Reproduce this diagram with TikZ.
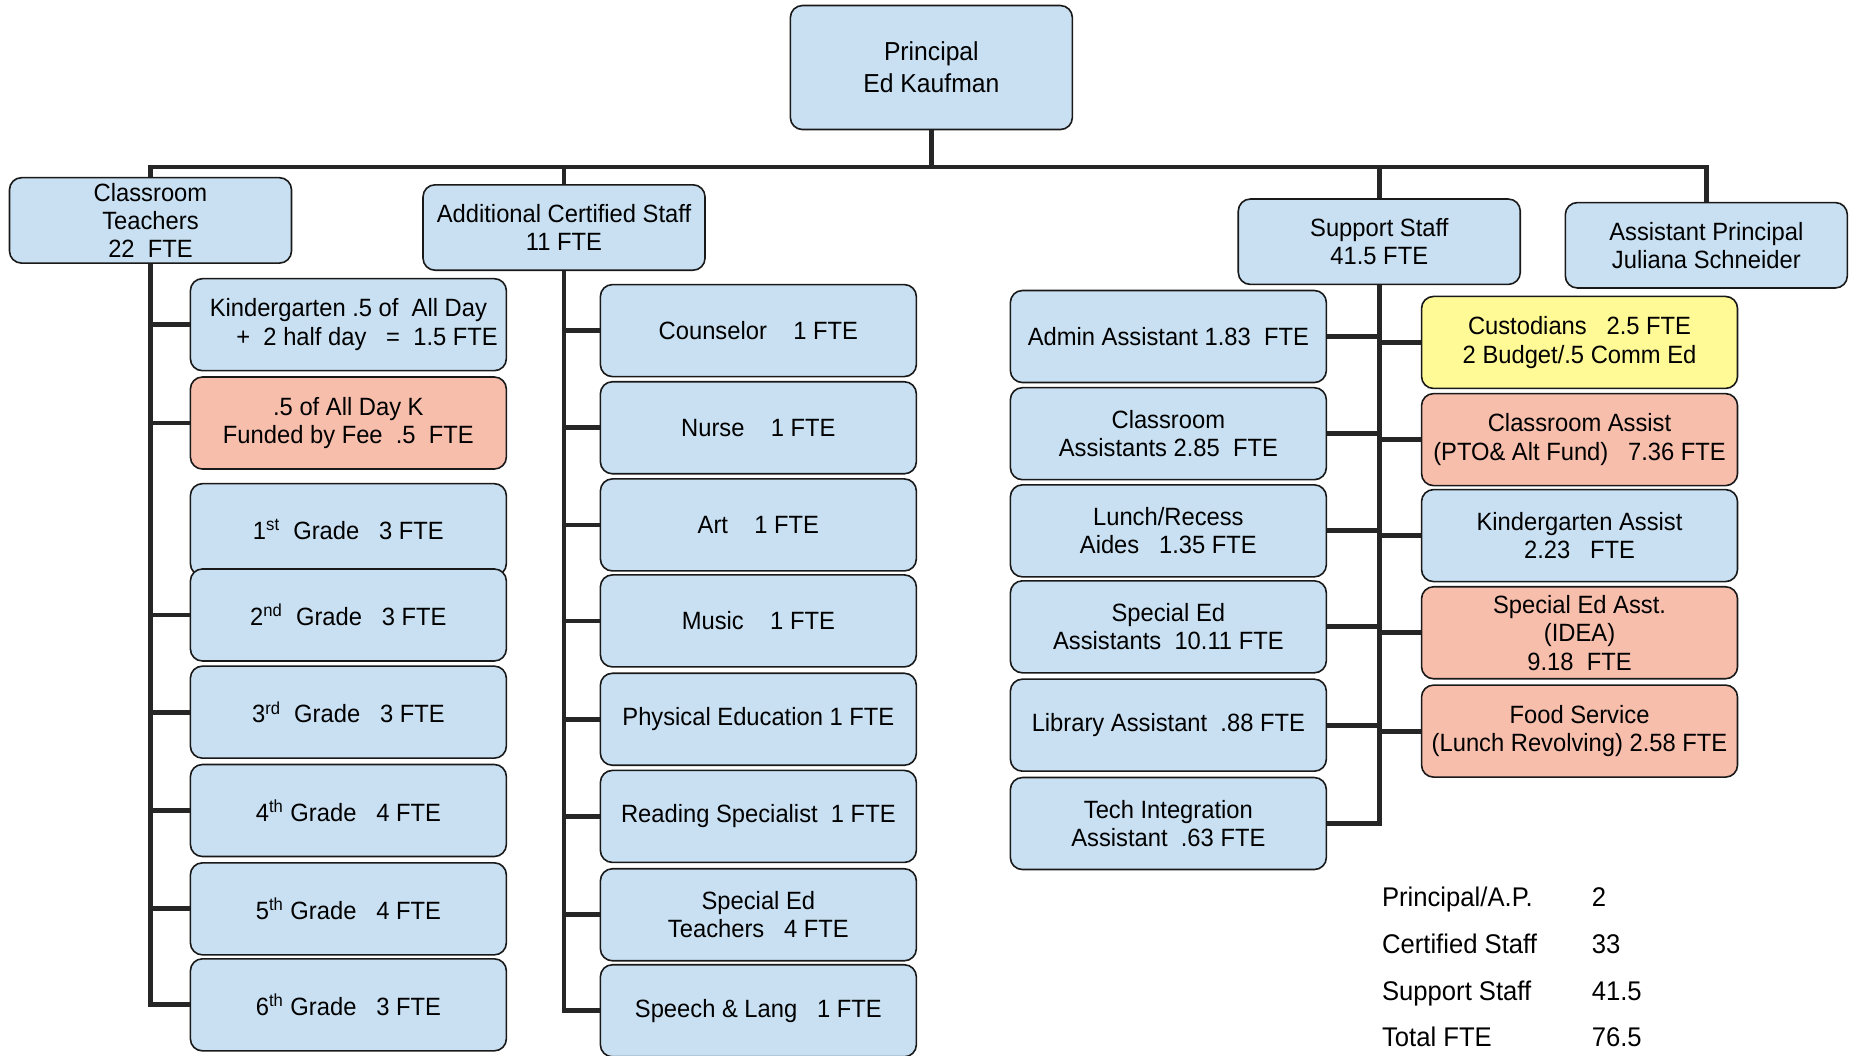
\documentclass[tikz,border=0pt]{standalone}
\usepackage{fontspec}
\setmainfont{Liberation Sans}[FakeStretch=0.95]

\definecolor{boxblue}{RGB}{200,224,242}
\definecolor{boxred}{RGB}{247,190,172}
\definecolor{boxyellow}{RGB}{255,249,150}
\definecolor{linkgray}{RGB}{38,38,38}

\tikzset{
  orgbox/.style={draw=black!90, line width=0.8pt, rounded corners=6pt, fill=boxblue,
    align=center, minimum width=158pt, minimum height=46pt, inner sep=1pt,
    font=\fontsize{12.5}{14.2}\selectfont},
  headbox/.style={orgbox, minimum width=141pt, minimum height=42.7pt},
  redbox/.style={fill=boxred},
  yellowbox/.style={fill=boxyellow},
  link/.style={draw=linkgray, line width=2.4pt, line join=miter},
  sumtext/.style={anchor=base west, inner sep=0pt, font=\fontsize{13.5}{16}\selectfont},
}

\begin{document}
\begin{tikzpicture}[x=0.5925pt, y=-0.5925pt]
\useasboundingbox (0,0) rectangle (1568,891);

% Principal and heads
\node[headbox, minimum height=62pt, font=\fontsize{13}{16}\selectfont] (prin) at (786,57) {Principal\\Ed Kaufman};
\node[headbox] (ct) at (127,186) {Classroom\\Teachers\\22\ \ FTE};
\node[headbox] (acs) at (476,192) {Additional Certified Staff\\11 FTE};
\node[headbox] (ss) at (1164,204) {Support Staff\\41.5 FTE};
\node[headbox] (ap) at (1440,207) {Assistant Principal\\Juliana Schneider};

% Bus
\coordinate (bus) at (0,141);
\draw[link] (prin.south) -- (prin.south |- bus);
\draw[link] (ct.north) -- (ct.north |- bus) -- (ap.north |- bus) -- (ap.north);
\draw[link] (acs.north) -- (acs.north |- bus);
\draw[link] (ss.north) -- (ss.north |- bus);

% Classroom teachers
\node[orgbox] (kg) at (294,274) {Kindergarten .5 of\ \ All Day\\\hspace*{1.5em}+\ \ 2 half day\ \ \ =\ \ 1.5 FTE};
\node[orgbox, redbox] (kgfee) at (294,357) {.5 of All Day K\\Funded by Fee\ \ .5\ \ FTE};
\node[orgbox] (g1) at (294,447) {1\textsuperscript{st}\ \ Grade\ \ \ 3 FTE};
\node[orgbox] (g2) at (294,519) {2\textsuperscript{nd}\ \ Grade\ \ \ 3 FTE};
\node[orgbox] (g3) at (294,601) {3\textsuperscript{rd}\ \ Grade\ \ \ 3 FTE};
\node[orgbox] (g4) at (294,684) {4\textsuperscript{th} Grade\ \ \ 4 FTE};
\node[orgbox] (g5) at (294,767) {5\textsuperscript{th} Grade\ \ \ 4 FTE};
\node[orgbox] (g6) at (294,848) {6\textsuperscript{th} Grade\ \ \ 3 FTE};
\draw[link] (ct.south) -- (ct.south |- g6.west) -- (g6.west)
  (ct.south |- kg.west) -- (kg.west)
  (ct.south |- kgfee.west) -- (kgfee.west)
  (ct.south |- g2.west) -- (g2.west)
  (ct.south |- g3.west) -- (g3.west)
  (ct.south |- g4.west) -- (g4.west)
  (ct.south |- g5.west) -- (g5.west);

% Additional certified staff
\node[orgbox] (couns) at (640,279) {Counselor\ \ \ \ 1 FTE};
\node[orgbox] (nurse) at (640,361) {Nurse\ \ \ \ 1 FTE};
\node[orgbox] (art) at (640,443) {Art\ \ \ \ 1 FTE};
\node[orgbox] (music) at (640,524) {Music\ \ \ \ 1 FTE};
\node[orgbox] (pe) at (640,607) {Physical Education 1 FTE};
\node[orgbox] (read) at (640,689) {Reading Specialist\ \ 1 FTE};
\node[orgbox] (spedt) at (640,772) {Special Ed\\Teachers\ \ \ 4 FTE};
\node[orgbox] (speech) at (640,853) {Speech \& Lang\ \ \ 1 FTE};
\draw[link] (acs.south) -- (acs.south |- speech.west) -- (speech.west)
  (acs.south |- couns.west) -- (couns.west)
  (acs.south |- nurse.west) -- (nurse.west)
  (acs.south |- art.west) -- (art.west)
  (acs.south |- music.west) -- (music.west)
  (acs.south |- pe.west) -- (pe.west)
  (acs.south |- read.west) -- (read.west)
  (acs.south |- spedt.west) -- (spedt.west);

% Support staff, left side
\node[orgbox] (admin) at (986,284) {Admin Assistant 1.83\ \ FTE};
\node[orgbox] (clsa) at (986,366) {Classroom\\Assistants 2.85\ \ FTE};
\node[orgbox] (lunch) at (986,448) {Lunch/Recess\\Aides\ \ \ 1.35 FTE};
\node[orgbox] (sped) at (986,529) {Special Ed\\Assistants\ \ 10.11 FTE};
\node[orgbox] (lib) at (986,612) {Library Assistant\ \ .88 FTE};
\node[orgbox] (tech) at (986,695) {Tech Integration\\Assistant\ \ .63 FTE};

% Support staff, right side
\node[orgbox, yellowbox] (cust) at (1333,289) {Custodians\ \ \ 2.5 FTE\\2 Budget/.5 Comm Ed};
\node[orgbox, redbox] (cla) at (1333,371) {Classroom Assist\\(PTO\& Alt Fund)\ \ \ 7.36 FTE};
\node[orgbox] (ka) at (1333,452) {Kindergarten Assist\\2.23\ \ \ FTE};
\node[orgbox, redbox] (spa) at (1333,534) {Special Ed Asst.\\(IDEA)\\9.18\ \ FTE};
\node[orgbox, redbox] (food) at (1333,617) {Food Service\\(Lunch Revolving) 2.58 FTE};

\draw[link] (ss.south) -- (ss.south |- tech.east) -- (tech.east)
  (admin.east) -- (ss.south |- admin.east)
  (clsa.east) -- (ss.south |- clsa.east)
  (lunch.east) -- (ss.south |- lunch.east)
  (sped.east) -- (ss.south |- sped.east)
  (lib.east) -- (ss.south |- lib.east)
  (ss.south |- cust.west) -- (cust.west)
  (ss.south |- cla.west) -- (cla.west)
  (ss.south |- ka.west) -- (ka.west)
  (ss.south |- spa.west) -- (spa.west)
  (ss.south |- food.west) -- (food.west);

% Totals
\node[sumtext] (sprin) at (1166,765) {Principal/A.P.};
\node[sumtext] (sprinv) at (1343,765) {2};
\node[sumtext] (scert) at (1166,805) {Certified Staff};
\node[sumtext] (scertv) at (1343,805) {33};
\node[sumtext] (ssupp) at (1166,844) {Support Staff};
\node[sumtext] (ssuppv) at (1343,844) {41.5};
\node[sumtext] (stotal) at (1166,883) {Total FTE};
\node[sumtext] (stotalv) at (1343,883) {76.5};
\end{tikzpicture}
\end{document}
